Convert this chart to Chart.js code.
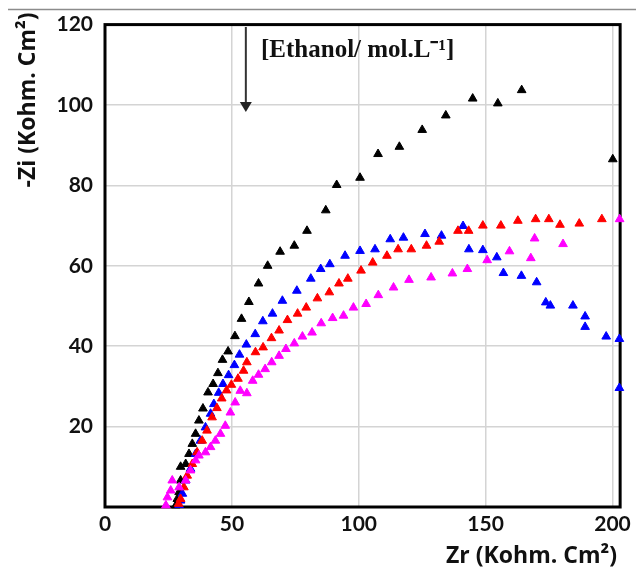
<!DOCTYPE html>
<html>
<head>
<meta charset="utf-8">
<script src="https://cdn.jsdelivr.net/npm/chart.js@4.4.1/dist/chart.umd.min.js"></script>
<style>
  html, body { margin: 0; padding: 0; background: #fff; }
  #wrap { width: 636px; height: 572px; position: relative; }
</style>
</head>
<body>
<div id="wrap"><canvas id="c"></canvas></div>
<script>
// ---- Data ----
const xTicks = [0, 50, 100, 150, 200];
const yTicks = [20, 40, 60, 80, 100, 120];

const blackZr = [27.9, 28.5, 29.2, 29.8, 29.8, 31.8, 33.1, 34.4, 35.7, 37.0, 38.6, 40.6, 42.6, 44.5, 46.3, 48.5, 51.2, 53.8, 56.7, 60.5, 64.1, 69.0, 74.6, 79.6, 87.0, 91.3, 100.5, 107.6, 116.0, 125.0, 134.3, 144.9, 154.8, 164.2, 200.1];
const blackZi = [0.4, 2.0, 3.7, 6.6, 10.0, 10.7, 13.2, 15.7, 18.2, 21.5, 24.5, 28.5, 30.6, 33.3, 36.6, 38.7, 42.5, 46.8, 51.0, 55.6, 60.0, 63.5, 65.0, 68.7, 73.8, 80.1, 81.9, 87.8, 89.6, 93.8, 97.4, 101.6, 100.4, 103.7, 86.5];

const blueZr = [29.2, 29.8, 30.5, 31.8, 33.7, 35.7, 37.6, 39.6, 41.6, 42.9, 44.8, 46.5, 48.7, 51.0, 53.0, 55.7, 59.2, 62.2, 66.0, 69.9, 75.6, 81.1, 85.0, 88.6, 94.6, 100.5, 106.4, 112.4, 117.6, 126.1, 132.6, 141.1, 143.4, 148.9, 154.4, 157.0, 164.1, 170.1, 173.7, 175.5, 184.4, 189.2, 189.2, 197.5, 202.7, 202.7];
const blueZi = [0.5, 1.6, 3.3, 6.6, 9.5, 13.2, 16.5, 19.8, 23.2, 25.6, 28.4, 30.6, 32.8, 35.3, 37.9, 40.4, 43.0, 46.2, 48.1, 51.3, 53.8, 56.8, 59.2, 60.4, 62.5, 63.7, 64.1, 66.6, 67.0, 67.9, 67.5, 69.9, 64.1, 63.9, 62.1, 58.2, 57.5, 55.9, 50.9, 50.1, 50.1, 47.4, 44.8, 42.4, 41.8, 29.6];

const redZr = [29.0, 29.8, 31.1, 32.4, 34.4, 36.3, 38.3, 40.2, 42.2, 44.1, 46.0, 47.9, 49.8, 52.4, 54.6, 55.9, 59.3, 62.3, 65.6, 68.6, 71.9, 75.9, 79.3, 83.7, 88.4, 92.2, 95.7, 100.9, 105.5, 111.1, 115.5, 120.7, 126.7, 131.7, 139.1, 143.3, 148.9, 156.0, 162.7, 169.7, 174.9, 179.3, 186.9, 195.8];
const redZi = [0.8, 2.0, 4.9, 7.8, 10.7, 13.6, 16.5, 19.0, 22.3, 24.6, 27.0, 29.0, 30.4, 31.9, 33.9, 36.0, 38.5, 39.7, 42.0, 43.9, 46.5, 48.1, 49.6, 51.9, 53.4, 55.6, 56.8, 58.8, 60.8, 62.5, 64.1, 64.1, 65.0, 66.0, 68.7, 68.7, 70.0, 70.0, 71.2, 71.6, 71.6, 70.2, 70.5, 71.6];

const magentaZr = [24.0, 24.6, 25.9, 26.5, 29.2, 31.8, 33.7, 35.7, 37.0, 39.6, 41.6, 43.5, 45.5, 47.4, 49.4, 51.3, 53.3, 55.9, 58.2, 60.5, 63.1, 65.7, 68.6, 71.3, 74.6, 77.8, 81.6, 85.2, 89.7, 94.0, 97.9, 102.9, 107.7, 113.7, 119.8, 128.5, 136.9, 142.8, 150.6, 159.4, 167.8, 169.3, 180.5, 202.8];
const magentaZi = [0.4, 2.4, 4.1, 6.6, 4.9, 6.6, 9.1, 11.6, 12.8, 13.6, 14.9, 16.5, 18.2, 20.2, 23.5, 26.0, 28.9, 28.3, 31.4, 32.9, 34.3, 36.0, 37.6, 39.3, 40.7, 42.4, 43.4, 45.7, 47.0, 47.6, 49.6, 50.5, 52.7, 54.6, 56.5, 57.1, 58.1, 59.2, 61.4, 63.6, 61.9, 66.8, 65.4, 71.6];

const xTitle = 'Zr (Kohm. Cm\u00B2)';
const yTitle = '-Zi (Kohm. Cm\u00B2)';
const note = '[Ethanol/ mol.L\u207B\u00B9]';

function pts(xs, ys) { return xs.map((x, i) => ({ x: x, y: ys[i] })); }
function series(xs, ys, color) {
  return {
    data: pts(xs, ys),
    pointStyle: 'triangle',
    pointRadius: 5,
    pointHoverRadius: 5,
    backgroundColor: color,
    borderColor: color,
    borderWidth: 1,
    showLine: false,
    clip: false
  };
}

const FONT = 'Lato, "Open Sans", sans-serif';
const TITLE_FONT = '"Open Sans", Lato, sans-serif';

const decor = {
  id: 'decor',
  beforeDatasetsDraw(chart) {
    const { ctx, chartArea: a } = chart;
    ctx.save();
    ctx.strokeStyle = '#000';
    ctx.lineWidth = 3;
    ctx.strokeRect(a.left, a.top, a.right - a.left, a.bottom - a.top);
    ctx.restore();
  },
  afterDraw(chart) {
    const { ctx, scales } = chart;
    ctx.save();
    // thin gray rule at the very top
    ctx.strokeStyle = '#8c8c8c';
    ctx.lineWidth = 1.5;
    ctx.beginPath();
    ctx.moveTo(8, 9.5);
    ctx.lineTo(636, 9.5);
    ctx.stroke();

    // arrow
    const ax = scales.x.getPixelForValue(55.5);
    const yTop = 27, yTip = 112;
    ctx.strokeStyle = '#333';
    ctx.fillStyle = '#222';
    ctx.lineWidth = 2;
    ctx.beginPath();
    ctx.moveTo(ax, yTop);
    ctx.lineTo(ax, yTip - 8);
    ctx.stroke();
    ctx.beginPath();
    ctx.moveTo(ax - 6, yTip - 10);
    ctx.lineTo(ax + 6, yTip - 10);
    ctx.lineTo(ax, yTip);
    ctx.closePath();
    ctx.fill();

    // annotation text
    ctx.fillStyle = '#111';
    ctx.font = 'bold 25px "Liberation Serif", "Times New Roman", serif';
    ctx.textAlign = 'left';
    ctx.textBaseline = 'middle';
    ctx.fillText(note, 261, 51);

    // axis titles
    ctx.font = 'bold 23px ' + TITLE_FONT;
    ctx.fillStyle = '#111';
    ctx.textAlign = 'right';
    ctx.textBaseline = 'middle';
    ctx.fillText(xTitle, 617, 556);

    ctx.translate(28, 100);
    ctx.rotate(-Math.PI / 2);
    ctx.textAlign = 'center';
    ctx.fillText(yTitle, 0, 0);
    ctx.restore();
  }
};

new Chart(document.getElementById('c'), {
  type: 'scatter',
  data: {
    datasets: [
      series(magentaZr, magentaZi, '#ff00ff'),
      series(redZr, redZi, '#ff0000'),
      series(blueZr, blueZi, '#0000ff'),
      series(blackZr, blackZi, '#000000')
    ]
  },
  options: {
    responsive: true,
    maintainAspectRatio: false,
    animation: false,
    layout: { padding: { left: 0, top: 23, right: 14, bottom: 0 } },
    plugins: { legend: { display: false }, tooltip: { enabled: false } },
    scales: {
      x: {
        type: 'linear',
        min: 0,
        max: 203,
        afterBuildTicks: (s) => { s.ticks = xTicks.map(v => ({ value: v })); },
        ticks: { font: { family: FONT, size: 21, weight: 'bold' }, color: '#111', padding: 5, maxRotation: 0 },
        grid: { color: '#d4d4d4', lineWidth: 1.5, drawTicks: false },
        border: { display: false },
        afterFit: (s) => { s.height = 65; }
      },
      y: {
        min: 0,
        max: 120,
        afterBuildTicks: (s) => { s.ticks = [0].concat(yTicks).map(v => ({ value: v })); },
        ticks: {
          font: { family: FONT, size: 21, weight: 'bold' }, color: '#111', padding: 12,
          callback: (v) => (v === 0 ? '' : v)
        },
        grid: { color: '#d4d4d4', lineWidth: 1.5, drawTicks: false },
        border: { display: false },
        afterFit: (s) => { s.width = 105; }
      }
    }
  },
  plugins: [decor]
});
</script>
</body>
</html>
